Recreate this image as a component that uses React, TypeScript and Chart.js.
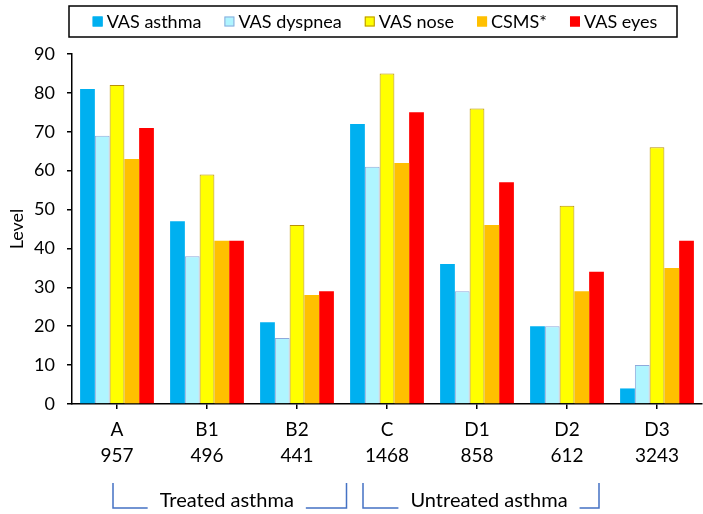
import React, { useEffect, useRef } from 'react';
import { Chart, registerables } from 'chart.js';

Chart.register(...registerables);

const categories = ['A', 'B1', 'B2', 'C', 'D1', 'D2', 'D3'];
const sampleSizes = ['957', '496', '441', '1468', '858', '612', '3243'];

const seriesNames = ['VAS asthma', 'VAS dyspnea', 'VAS nose', 'CSMS*', 'VAS eyes'];
const vasAsthma = [81, 47, 21, 72, 36, 20, 4];
const vasDyspnea = [69, 38, 17, 61, 29, 20, 10];
const vasNose = [82, 59, 46, 85, 76, 51, 66];
const csms = [63, 42, 28, 62, 46, 29, 35];
const vasEyes = [71, 42, 29, 75, 57, 34, 42];

const yTicks = [0, 10, 20, 30, 40, 50, 60, 70, 80, 90];
const yTitle = 'Level';

const groupLabels = ['Treated asthma', 'Untreated asthma'];
const groupFirst = [0, 3];
const groupLast = [2, 5];

const fills = ['#00B0F0', '#AFF5FF', '#FFFF00', '#FFC000', '#FF0000'];
const borders = ['#00B0F0', '#8EA9DB', '#B8900A', '#FFC000', '#FF0000'];

const FONT = 'Lato, "Open Sans", sans-serif';

export default function App() {
  const ref = useRef<HTMLCanvasElement>(null);

  useEffect(() => {
    if (!ref.current) return;

    const legendPlugin = {
      id: 'boxLegend',
      afterDraw(chart: any) {
        const ctx = chart.ctx;
        ctx.save();
        ctx.font = `18px ${FONT}`;
        ctx.textBaseline = 'middle';
        const box = 10;
        const gapText = 4;
        const gapItem = 23;
        const ds = chart.data.datasets;
        const widths = ds.map((d: any) => ctx.measureText(d.label).width);
        let total = 0;
        widths.forEach((w: number, i: number) => {
          total += box + gapText + w + (i < widths.length - 1 ? gapItem : 0);
        });
        const frameL = 69, frameR = 677, frameT = 6, frameB = 37;
        ctx.strokeStyle = '#000';
        ctx.lineWidth = 1.5;
        ctx.strokeRect(frameL, frameT, frameR - frameL, frameB - frameT);
        const cy = (frameT + frameB) / 2;
        let x = (frameL + frameR) / 2 - total / 2 + 2;
        ds.forEach((d: any, i: number) => {
          ctx.fillStyle = d.backgroundColor;
          ctx.fillRect(x, cy - box / 2, box, box);
          ctx.strokeStyle = d.borderColor;
          ctx.lineWidth = 1;
          ctx.strokeRect(x + 0.5, cy - box / 2 + 0.5, box - 1, box - 1);
          ctx.fillStyle = '#000';
          ctx.textAlign = 'left';
          ctx.fillText(d.label, x + box + gapText, cy + 1);
          x += box + gapText + widths[i] + gapItem;
        });
        ctx.restore();
      },
    };

    const bracketPlugin = {
      id: 'groupBrackets',
      afterDraw(chart: any) {
        const ctx = chart.ctx;
        const xs = chart.scales.x;
        ctx.save();
        ctx.font = `20px ${FONT}`;
        ctx.textBaseline = 'middle';
        ctx.textAlign = 'center';
        ctx.strokeStyle = '#4472C4';
        ctx.lineWidth = 1.5;
        const topY = 483, botY = 508, textY = 501;
        groupLabels.forEach((label, g) => {
          const step = xs.getPixelForValue(1) - xs.getPixelForValue(0);
          const left = g === 0 ? xs.getPixelForValue(groupFirst[g]) - 4 : xs.getPixelForValue(groupFirst[g]) - 24;
          const right = g === 0 ? xs.getPixelForValue(groupLast[g]) + step * 0.55 : xs.getPixelForValue(groupLast[g]) + 32;
          const w = ctx.measureText(label).width;
          const cx = g === 0 ? (left + right) / 2 - 3 : (left + right) / 2 + 8;
          const tL = cx - w / 2 - 12;
          const tR = cx + w / 2 + 12;
          ctx.beginPath();
          ctx.moveTo(left, topY);
          ctx.lineTo(left, botY);
          ctx.lineTo(tL, botY);
          ctx.stroke();
          ctx.beginPath();
          ctx.moveTo(tR, botY);
          ctx.lineTo(right, botY);
          ctx.lineTo(right, topY);
          ctx.stroke();
          ctx.fillStyle = '#000';
          ctx.fillText(label, cx, textY);
        });
        ctx.restore();
      },
    };

    const values = [vasAsthma, vasDyspnea, vasNose, csms, vasEyes];

    const chart = new Chart(ref.current, {
      type: 'bar',
      data: {
        labels: categories.map((c, i) => [c, sampleSizes[i]]),
        datasets: values.map((v, i) => ({
          label: seriesNames[i],
          data: v,
          backgroundColor: fills[i],
          borderColor: borders[i],
          borderWidth: i === 1 || i === 2 ? 1 : 0,
          categoryPercentage: 0.82,
          barPercentage: 1,
        })),
      },
      options: {
        animation: false,
        responsive: false,
        maintainAspectRatio: false,
        layout: { padding: { top: 54, right: 1, left: 0, bottom: 0 } },
        plugins: {
          legend: { display: false },
          tooltip: { enabled: false },
        },
        scales: {
          x: {
            grid: {
              offset: false,
              drawOnChartArea: false,
              drawTicks: true,
              tickLength: 5,
              color: '#000',
              lineWidth: 1.5,
            },
            border: { color: '#000', width: 1.5 },
            ticks: {
              color: '#000',
              font: { family: FONT, size: 19, lineHeight: 1.37 },
              padding: 8,
              maxRotation: 0,
              autoSkip: false,
            },
            afterFit: (s: any) => {
              s.height = 110;
            },
          },
          y: {
            min: 0,
            max: 90,
            afterBuildTicks: (s: any) => {
              s.ticks = yTicks.map((v) => ({ value: v }));
            },
            grid: {
              drawOnChartArea: false,
              drawTicks: true,
              tickLength: 5,
              color: '#000',
              lineWidth: 1.5,
            },
            border: { color: '#000', width: 1.5 },
            ticks: {
              color: '#000',
              font: { family: FONT, size: 18 },
              padding: 12,
            },
            title: {
              display: true,
              text: yTitle,
              color: '#000',
              font: { family: FONT, size: 18 },
              padding: { top: 6, bottom: 0 },
            },
            afterFit: (s: any) => {
              s.width = 72;
            },
          },
        },
      },
      plugins: [legendPlugin, bracketPlugin],
    } as any);

    return () => chart.destroy();
  }, []);

  return (
    <div style={{ position: 'absolute', left: 0, top: 0, width: 703, height: 514, background: '#fff' }}>
      <canvas ref={ref} width={703} height={514} style={{ display: 'block' }} />
    </div>
  );
}
